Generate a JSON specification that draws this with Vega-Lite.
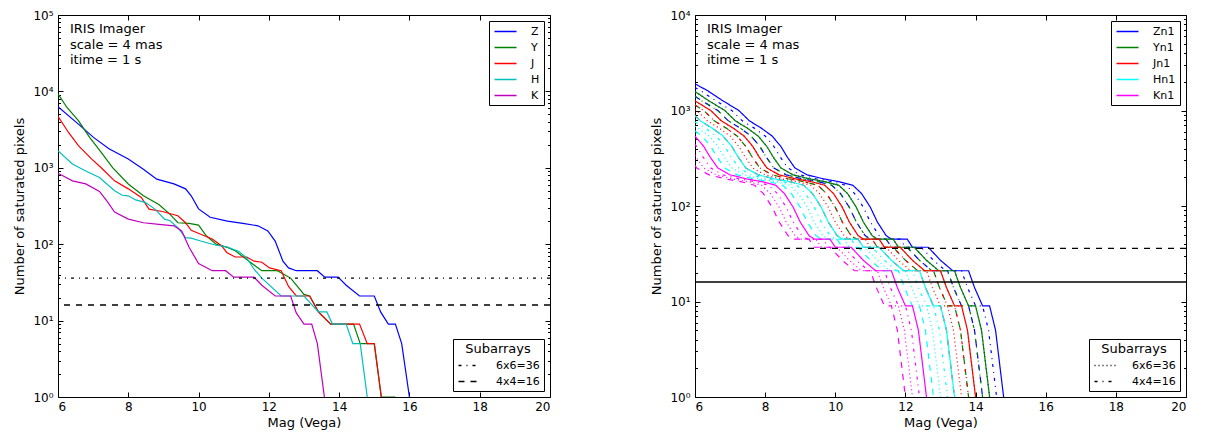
{
  "$schema": "https://vega.github.io/schema/vega-lite/v6.json",
  "background": "white",
  "padding": {"left": 13, "top": 8, "right": 0, "bottom": 0},
  "config": {
    "font": "DejaVu Sans",
    "view": {"stroke": "black", "strokeWidth": 1},
    "axis": {"grid": false, "domain": false, "tickColor": "black", "tickWidth": 1, "labelColor": "black", "labelFont": "DejaVu Sans", "labelFontSize": 12, "titleFont": "DejaVu Sans", "titleFontSize": 13, "titleFontWeight": "normal", "titleColor": "black"},
    "legend": {"labelFont": "DejaVu Sans", "labelFontSize": 11, "labelColor": "black", "titleFont": "DejaVu Sans", "titleFontSize": 13, "titleFontWeight": "normal", "titleColor": "black", "strokeColor": "black", "fillColor": "white", "padding": 4, "cornerRadius": 0, "offset": 6, "symbolType": "M-2,0H2", "symbolSize": 121, "symbolStrokeWidth": 1.5, "symbolOffset": 6, "labelOffset": 19, "rowPadding": 4, "titlePadding": 3}
  },
  "datasets": {
    "left": [
      {"band":"Z","mag":6.0,"n":6300},{"band":"Z","mag":6.58,"n":3730},{"band":"Z","mag":7.01,"n":2500},{"band":"Z","mag":7.45,"n":1780},{"band":"Z","mag":8.0,"n":1300},{"band":"Z","mag":8.43,"n":960},{"band":"Z","mag":8.81,"n":710},{"band":"Z","mag":9.3,"n":615},{"band":"Z","mag":9.63,"n":530},{"band":"Z","mag":9.79,"n":430},{"band":"Z","mag":10.0,"n":290},{"band":"Z","mag":10.33,"n":225},{"band":"Z","mag":10.82,"n":200},{"band":"Z","mag":11.26,"n":187},{"band":"Z","mag":11.69,"n":174},{"band":"Z","mag":11.97,"n":149},{"band":"Z","mag":12.18,"n":110},{"band":"Z","mag":12.4,"n":60},{"band":"Z","mag":12.56,"n":49},{"band":"Z","mag":12.78,"n":45},{"band":"Z","mag":13.38,"n":45},{"band":"Z","mag":13.59,"n":37},{"band":"Z","mag":13.97,"n":37},{"band":"Z","mag":14.2,"n":29},{"band":"Z","mag":14.58,"n":21},{"band":"Z","mag":15.0,"n":21},{"band":"Z","mag":15.18,"n":13},{"band":"Z","mag":15.4,"n":9},{"band":"Z","mag":15.6,"n":9},{"band":"Z","mag":15.78,"n":5},{"band":"Z","mag":16.0,"n":1},
      {"band":"Y","mag":6.0,"n":9300},{"band":"Y","mag":6.25,"n":6200},{"band":"Y","mag":6.58,"n":4150},{"band":"Y","mag":6.9,"n":2500},{"band":"Y","mag":7.23,"n":1590},{"band":"Y","mag":7.56,"n":1000},{"band":"Y","mag":8.0,"n":615},{"band":"Y","mag":8.43,"n":430},{"band":"Y","mag":8.87,"n":330},{"band":"Y","mag":9.19,"n":246},{"band":"Y","mag":9.41,"n":191},{"band":"Y","mag":9.73,"n":187},{"band":"Y","mag":10.0,"n":178},{"band":"Y","mag":10.22,"n":129},{"band":"Y","mag":10.5,"n":100},{"band":"Y","mag":10.82,"n":91},{"band":"Y","mag":11.04,"n":82},{"band":"Y","mag":11.37,"n":63},{"band":"Y","mag":11.8,"n":45},{"band":"Y","mag":12.24,"n":45},{"band":"Y","mag":12.62,"n":36},{"band":"Y","mag":13.0,"n":22},{"band":"Y","mag":13.16,"n":21},{"band":"Y","mag":13.41,"n":13},{"band":"Y","mag":13.76,"n":9},{"band":"Y","mag":14.41,"n":9},{"band":"Y","mag":14.6,"n":5},{"band":"Y","mag":15.0,"n":5},{"band":"Y","mag":15.2,"n":1},{"band":"Y","mag":15.6,"n":1},
      {"band":"J","mag":6.0,"n":4700},{"band":"J","mag":6.3,"n":2900},{"band":"J","mag":6.58,"n":1950},{"band":"J","mag":6.96,"n":1300},{"band":"J","mag":7.23,"n":1000},{"band":"J","mag":7.61,"n":675},{"band":"J","mag":8.0,"n":530},{"band":"J","mag":8.37,"n":410},{"band":"J","mag":8.59,"n":288},{"band":"J","mag":8.97,"n":268},{"band":"J","mag":9.41,"n":236},{"band":"J","mag":9.63,"n":191},{"band":"J","mag":9.79,"n":152},{"band":"J","mag":10.06,"n":135},{"band":"J","mag":10.39,"n":117},{"band":"J","mag":10.66,"n":95},{"band":"J","mag":10.8,"n":78},{"band":"J","mag":11.04,"n":68},{"band":"J","mag":11.37,"n":68},{"band":"J","mag":11.58,"n":60},{"band":"J","mag":11.8,"n":58},{"band":"J","mag":12.02,"n":49},{"band":"J","mag":12.35,"n":45},{"band":"J","mag":12.56,"n":28},{"band":"J","mag":12.78,"n":21},{"band":"J","mag":13.16,"n":21},{"band":"J","mag":13.41,"n":13},{"band":"J","mag":13.76,"n":9},{"band":"J","mag":14.58,"n":9},{"band":"J","mag":14.8,"n":5},{"band":"J","mag":15.0,"n":5},{"band":"J","mag":15.2,"n":1},
      {"band":"H","mag":6.0,"n":1670},{"band":"H","mag":6.41,"n":1120},{"band":"H","mag":6.79,"n":910},{"band":"H","mag":7.18,"n":745},{"band":"H","mag":7.61,"n":500},{"band":"H","mag":7.83,"n":437},{"band":"H","mag":8.0,"n":430},{"band":"H","mag":8.21,"n":380},{"band":"H","mag":8.48,"n":353},{"band":"H","mag":8.76,"n":288},{"band":"H","mag":9.03,"n":213},{"band":"H","mag":9.19,"n":203},{"band":"H","mag":9.41,"n":165},{"band":"H","mag":9.63,"n":122},{"band":"H","mag":9.79,"n":120},{"band":"H","mag":10.06,"n":110},{"band":"H","mag":10.5,"n":97},{"band":"H","mag":10.82,"n":92},{"band":"H","mag":11.15,"n":80},{"band":"H","mag":11.37,"n":66},{"band":"H","mag":11.58,"n":47},{"band":"H","mag":11.8,"n":36},{"band":"H","mag":12.35,"n":21},{"band":"H","mag":13.0,"n":21},{"band":"H","mag":13.41,"n":13},{"band":"H","mag":13.65,"n":13},{"band":"H","mag":13.81,"n":9},{"band":"H","mag":14.2,"n":9},{"band":"H","mag":14.39,"n":5},{"band":"H","mag":14.6,"n":5},{"band":"H","mag":14.8,"n":1},
      {"band":"K","mag":6.0,"n":850},{"band":"K","mag":6.41,"n":675},{"band":"K","mag":6.79,"n":615},{"band":"K","mag":7.18,"n":490},{"band":"K","mag":7.39,"n":370},{"band":"K","mag":7.61,"n":264},{"band":"K","mag":8.0,"n":213},{"band":"K","mag":8.43,"n":191},{"band":"K","mag":8.87,"n":182},{"band":"K","mag":9.3,"n":174},{"band":"K","mag":9.52,"n":149},{"band":"K","mag":9.73,"n":91},{"band":"K","mag":10.0,"n":56},{"band":"K","mag":10.39,"n":45},{"band":"K","mag":10.77,"n":45},{"band":"K","mag":11.0,"n":37},{"band":"K","mag":11.58,"n":37},{"band":"K","mag":11.8,"n":29},{"band":"K","mag":12.18,"n":21},{"band":"K","mag":12.62,"n":21},{"band":"K","mag":12.78,"n":12.6},{"band":"K","mag":13.0,"n":9},{"band":"K","mag":13.22,"n":9},{"band":"K","mag":13.38,"n":5},{"band":"K","mag":13.58,"n":1}
    ],
    "right": [
      {"band":"Zn1","sub":"full","mag":6,"n":1900},{"band":"Zn1","sub":"full","mag":6.35,"n":1620},{"band":"Zn1","sub":"full","mag":6.8,"n":1260},{"band":"Zn1","sub":"full","mag":7.25,"n":1000},{"band":"Zn1","sub":"full","mag":7.55,"n":780},{"band":"Zn1","sub":"full","mag":7.9,"n":650},{"band":"Zn1","sub":"full","mag":8.2,"n":540},{"band":"Zn1","sub":"full","mag":8.45,"n":420},{"band":"Zn1","sub":"full","mag":8.62,"n":330},{"band":"Zn1","sub":"full","mag":8.85,"n":250},{"band":"Zn1","sub":"full","mag":9.2,"n":212},{"band":"Zn1","sub":"full","mag":9.65,"n":193},{"band":"Zn1","sub":"full","mag":10.1,"n":180},{"band":"Zn1","sub":"full","mag":10.5,"n":165},{"band":"Zn1","sub":"full","mag":10.75,"n":135},{"band":"Zn1","sub":"full","mag":11,"n":97},{"band":"Zn1","sub":"full","mag":11.2,"n":68},{"band":"Zn1","sub":"full","mag":11.45,"n":49},{"band":"Zn1","sub":"full","mag":11.6,"n":45},{"band":"Zn1","sub":"full","mag":12.05,"n":45},{"band":"Zn1","sub":"full","mag":12.2,"n":37},{"band":"Zn1","sub":"full","mag":12.65,"n":37},{"band":"Zn1","sub":"full","mag":13,"n":27},{"band":"Zn1","sub":"full","mag":13.35,"n":21},{"band":"Zn1","sub":"full","mag":13.8,"n":21},{"band":"Zn1","sub":"full","mag":13.97,"n":14},{"band":"Zn1","sub":"full","mag":14.2,"n":9},{"band":"Zn1","sub":"full","mag":14.4,"n":9},{"band":"Zn1","sub":"full","mag":14.57,"n":5},{"band":"Zn1","sub":"full","mag":14.8,"n":1},
      {"band":"Zn1","sub":"4x4=16","mag":6,"n":1740},{"band":"Zn1","sub":"4x4=16","mag":6.15,"n":1620},{"band":"Zn1","sub":"4x4=16","mag":6.6,"n":1260},{"band":"Zn1","sub":"4x4=16","mag":7.05,"n":1000},{"band":"Zn1","sub":"4x4=16","mag":7.35,"n":780},{"band":"Zn1","sub":"4x4=16","mag":7.7,"n":650},{"band":"Zn1","sub":"4x4=16","mag":8,"n":540},{"band":"Zn1","sub":"4x4=16","mag":8.25,"n":420},{"band":"Zn1","sub":"4x4=16","mag":8.42,"n":330},{"band":"Zn1","sub":"4x4=16","mag":8.65,"n":250},{"band":"Zn1","sub":"4x4=16","mag":9,"n":212},{"band":"Zn1","sub":"4x4=16","mag":9.45,"n":193},{"band":"Zn1","sub":"4x4=16","mag":9.9,"n":180},{"band":"Zn1","sub":"4x4=16","mag":10.3,"n":165},{"band":"Zn1","sub":"4x4=16","mag":10.55,"n":135},{"band":"Zn1","sub":"4x4=16","mag":10.8,"n":97},{"band":"Zn1","sub":"4x4=16","mag":11,"n":68},{"band":"Zn1","sub":"4x4=16","mag":11.25,"n":49},{"band":"Zn1","sub":"4x4=16","mag":11.4,"n":45},{"band":"Zn1","sub":"4x4=16","mag":11.85,"n":45},{"band":"Zn1","sub":"4x4=16","mag":12,"n":37},{"band":"Zn1","sub":"4x4=16","mag":12.45,"n":37},{"band":"Zn1","sub":"4x4=16","mag":12.8,"n":27},{"band":"Zn1","sub":"4x4=16","mag":13.15,"n":21},{"band":"Zn1","sub":"4x4=16","mag":13.6,"n":21},{"band":"Zn1","sub":"4x4=16","mag":13.77,"n":14},{"band":"Zn1","sub":"4x4=16","mag":14,"n":9},{"band":"Zn1","sub":"4x4=16","mag":14.2,"n":9},{"band":"Zn1","sub":"4x4=16","mag":14.37,"n":5},{"band":"Zn1","sub":"4x4=16","mag":14.6,"n":1},
      {"band":"Zn1","sub":"6x6=36","mag":6,"n":1580},{"band":"Zn1","sub":"6x6=36","mag":6.4,"n":1260},{"band":"Zn1","sub":"6x6=36","mag":6.85,"n":1000},{"band":"Zn1","sub":"6x6=36","mag":7.15,"n":780},{"band":"Zn1","sub":"6x6=36","mag":7.5,"n":650},{"band":"Zn1","sub":"6x6=36","mag":7.8,"n":540},{"band":"Zn1","sub":"6x6=36","mag":8.05,"n":420},{"band":"Zn1","sub":"6x6=36","mag":8.22,"n":330},{"band":"Zn1","sub":"6x6=36","mag":8.45,"n":250},{"band":"Zn1","sub":"6x6=36","mag":8.8,"n":212},{"band":"Zn1","sub":"6x6=36","mag":9.25,"n":193},{"band":"Zn1","sub":"6x6=36","mag":9.7,"n":180},{"band":"Zn1","sub":"6x6=36","mag":10.1,"n":165},{"band":"Zn1","sub":"6x6=36","mag":10.35,"n":135},{"band":"Zn1","sub":"6x6=36","mag":10.6,"n":97},{"band":"Zn1","sub":"6x6=36","mag":10.8,"n":68},{"band":"Zn1","sub":"6x6=36","mag":11.05,"n":49},{"band":"Zn1","sub":"6x6=36","mag":11.2,"n":45},{"band":"Zn1","sub":"6x6=36","mag":11.65,"n":45},{"band":"Zn1","sub":"6x6=36","mag":11.8,"n":37},{"band":"Zn1","sub":"6x6=36","mag":12.25,"n":37},{"band":"Zn1","sub":"6x6=36","mag":12.6,"n":27},{"band":"Zn1","sub":"6x6=36","mag":12.95,"n":21},{"band":"Zn1","sub":"6x6=36","mag":13.4,"n":21},{"band":"Zn1","sub":"6x6=36","mag":13.57,"n":14},{"band":"Zn1","sub":"6x6=36","mag":13.8,"n":9},{"band":"Zn1","sub":"6x6=36","mag":14,"n":9},{"band":"Zn1","sub":"6x6=36","mag":14.17,"n":5},{"band":"Zn1","sub":"6x6=36","mag":14.4,"n":1},
      {"band":"Zn1","sub":"other","mag":6,"n":1410},{"band":"Zn1","sub":"other","mag":6.2,"n":1260},{"band":"Zn1","sub":"other","mag":6.65,"n":1000},{"band":"Zn1","sub":"other","mag":6.95,"n":780},{"band":"Zn1","sub":"other","mag":7.3,"n":650},{"band":"Zn1","sub":"other","mag":7.6,"n":540},{"band":"Zn1","sub":"other","mag":7.85,"n":420},{"band":"Zn1","sub":"other","mag":8.02,"n":330},{"band":"Zn1","sub":"other","mag":8.25,"n":250},{"band":"Zn1","sub":"other","mag":8.6,"n":212},{"band":"Zn1","sub":"other","mag":9.05,"n":193},{"band":"Zn1","sub":"other","mag":9.5,"n":180},{"band":"Zn1","sub":"other","mag":9.9,"n":165},{"band":"Zn1","sub":"other","mag":10.15,"n":135},{"band":"Zn1","sub":"other","mag":10.4,"n":97},{"band":"Zn1","sub":"other","mag":10.6,"n":68},{"band":"Zn1","sub":"other","mag":10.85,"n":49},{"band":"Zn1","sub":"other","mag":11,"n":45},{"band":"Zn1","sub":"other","mag":11.45,"n":45},{"band":"Zn1","sub":"other","mag":11.6,"n":37},{"band":"Zn1","sub":"other","mag":12.05,"n":37},{"band":"Zn1","sub":"other","mag":12.4,"n":27},{"band":"Zn1","sub":"other","mag":12.75,"n":21},{"band":"Zn1","sub":"other","mag":13.2,"n":21},{"band":"Zn1","sub":"other","mag":13.37,"n":14},{"band":"Zn1","sub":"other","mag":13.6,"n":9},{"band":"Zn1","sub":"other","mag":13.8,"n":9},{"band":"Zn1","sub":"other","mag":13.97,"n":5},{"band":"Zn1","sub":"other","mag":14.2,"n":1},

      {"band":"Yn1","sub":"full","mag":6,"n":1580},{"band":"Yn1","sub":"full","mag":6.4,"n":1260},{"band":"Yn1","sub":"full","mag":6.85,"n":1000},{"band":"Yn1","sub":"full","mag":7.15,"n":780},{"band":"Yn1","sub":"full","mag":7.5,"n":650},{"band":"Yn1","sub":"full","mag":7.8,"n":540},{"band":"Yn1","sub":"full","mag":8.05,"n":420},{"band":"Yn1","sub":"full","mag":8.22,"n":330},{"band":"Yn1","sub":"full","mag":8.45,"n":250},{"band":"Yn1","sub":"full","mag":8.8,"n":212},{"band":"Yn1","sub":"full","mag":9.25,"n":193},{"band":"Yn1","sub":"full","mag":9.7,"n":180},{"band":"Yn1","sub":"full","mag":10.1,"n":165},{"band":"Yn1","sub":"full","mag":10.35,"n":135},{"band":"Yn1","sub":"full","mag":10.6,"n":97},{"band":"Yn1","sub":"full","mag":10.8,"n":68},{"band":"Yn1","sub":"full","mag":11.05,"n":49},{"band":"Yn1","sub":"full","mag":11.2,"n":45},{"band":"Yn1","sub":"full","mag":11.65,"n":45},{"band":"Yn1","sub":"full","mag":11.8,"n":37},{"band":"Yn1","sub":"full","mag":12.25,"n":37},{"band":"Yn1","sub":"full","mag":12.6,"n":27},{"band":"Yn1","sub":"full","mag":12.95,"n":21},{"band":"Yn1","sub":"full","mag":13.4,"n":21},{"band":"Yn1","sub":"full","mag":13.57,"n":14},{"band":"Yn1","sub":"full","mag":13.8,"n":9},{"band":"Yn1","sub":"full","mag":14,"n":9},{"band":"Yn1","sub":"full","mag":14.17,"n":5},{"band":"Yn1","sub":"full","mag":14.4,"n":1},
      {"band":"Yn1","sub":"4x4=16","mag":6,"n":1410},{"band":"Yn1","sub":"4x4=16","mag":6.2,"n":1260},{"band":"Yn1","sub":"4x4=16","mag":6.65,"n":1000},{"band":"Yn1","sub":"4x4=16","mag":6.95,"n":780},{"band":"Yn1","sub":"4x4=16","mag":7.3,"n":650},{"band":"Yn1","sub":"4x4=16","mag":7.6,"n":540},{"band":"Yn1","sub":"4x4=16","mag":7.85,"n":420},{"band":"Yn1","sub":"4x4=16","mag":8.02,"n":330},{"band":"Yn1","sub":"4x4=16","mag":8.25,"n":250},{"band":"Yn1","sub":"4x4=16","mag":8.6,"n":212},{"band":"Yn1","sub":"4x4=16","mag":9.05,"n":193},{"band":"Yn1","sub":"4x4=16","mag":9.5,"n":180},{"band":"Yn1","sub":"4x4=16","mag":9.9,"n":165},{"band":"Yn1","sub":"4x4=16","mag":10.15,"n":135},{"band":"Yn1","sub":"4x4=16","mag":10.4,"n":97},{"band":"Yn1","sub":"4x4=16","mag":10.6,"n":68},{"band":"Yn1","sub":"4x4=16","mag":10.85,"n":49},{"band":"Yn1","sub":"4x4=16","mag":11,"n":45},{"band":"Yn1","sub":"4x4=16","mag":11.45,"n":45},{"band":"Yn1","sub":"4x4=16","mag":11.6,"n":37},{"band":"Yn1","sub":"4x4=16","mag":12.05,"n":37},{"band":"Yn1","sub":"4x4=16","mag":12.4,"n":27},{"band":"Yn1","sub":"4x4=16","mag":12.75,"n":21},{"band":"Yn1","sub":"4x4=16","mag":13.2,"n":21},{"band":"Yn1","sub":"4x4=16","mag":13.37,"n":14},{"band":"Yn1","sub":"4x4=16","mag":13.6,"n":9},{"band":"Yn1","sub":"4x4=16","mag":13.8,"n":9},{"band":"Yn1","sub":"4x4=16","mag":13.97,"n":5},{"band":"Yn1","sub":"4x4=16","mag":14.2,"n":1},
      {"band":"Yn1","sub":"6x6=36","mag":6,"n":1260},{"band":"Yn1","sub":"6x6=36","mag":6.45,"n":1000},{"band":"Yn1","sub":"6x6=36","mag":6.75,"n":780},{"band":"Yn1","sub":"6x6=36","mag":7.1,"n":650},{"band":"Yn1","sub":"6x6=36","mag":7.4,"n":540},{"band":"Yn1","sub":"6x6=36","mag":7.65,"n":420},{"band":"Yn1","sub":"6x6=36","mag":7.82,"n":330},{"band":"Yn1","sub":"6x6=36","mag":8.05,"n":250},{"band":"Yn1","sub":"6x6=36","mag":8.4,"n":212},{"band":"Yn1","sub":"6x6=36","mag":8.85,"n":193},{"band":"Yn1","sub":"6x6=36","mag":9.3,"n":180},{"band":"Yn1","sub":"6x6=36","mag":9.7,"n":165},{"band":"Yn1","sub":"6x6=36","mag":9.95,"n":135},{"band":"Yn1","sub":"6x6=36","mag":10.2,"n":97},{"band":"Yn1","sub":"6x6=36","mag":10.4,"n":68},{"band":"Yn1","sub":"6x6=36","mag":10.65,"n":49},{"band":"Yn1","sub":"6x6=36","mag":10.8,"n":45},{"band":"Yn1","sub":"6x6=36","mag":11.25,"n":45},{"band":"Yn1","sub":"6x6=36","mag":11.4,"n":37},{"band":"Yn1","sub":"6x6=36","mag":11.85,"n":37},{"band":"Yn1","sub":"6x6=36","mag":12.2,"n":27},{"band":"Yn1","sub":"6x6=36","mag":12.55,"n":21},{"band":"Yn1","sub":"6x6=36","mag":13,"n":21},{"band":"Yn1","sub":"6x6=36","mag":13.17,"n":14},{"band":"Yn1","sub":"6x6=36","mag":13.4,"n":9},{"band":"Yn1","sub":"6x6=36","mag":13.6,"n":9},{"band":"Yn1","sub":"6x6=36","mag":13.77,"n":5},{"band":"Yn1","sub":"6x6=36","mag":14,"n":1},
      {"band":"Yn1","sub":"other","mag":6,"n":1140},{"band":"Yn1","sub":"other","mag":6.25,"n":1000},{"band":"Yn1","sub":"other","mag":6.55,"n":780},{"band":"Yn1","sub":"other","mag":6.9,"n":650},{"band":"Yn1","sub":"other","mag":7.2,"n":540},{"band":"Yn1","sub":"other","mag":7.45,"n":420},{"band":"Yn1","sub":"other","mag":7.62,"n":330},{"band":"Yn1","sub":"other","mag":7.85,"n":250},{"band":"Yn1","sub":"other","mag":8.2,"n":212},{"band":"Yn1","sub":"other","mag":8.65,"n":193},{"band":"Yn1","sub":"other","mag":9.1,"n":180},{"band":"Yn1","sub":"other","mag":9.5,"n":165},{"band":"Yn1","sub":"other","mag":9.75,"n":135},{"band":"Yn1","sub":"other","mag":10,"n":97},{"band":"Yn1","sub":"other","mag":10.2,"n":68},{"band":"Yn1","sub":"other","mag":10.45,"n":49},{"band":"Yn1","sub":"other","mag":10.6,"n":45},{"band":"Yn1","sub":"other","mag":11.05,"n":45},{"band":"Yn1","sub":"other","mag":11.2,"n":37},{"band":"Yn1","sub":"other","mag":11.65,"n":37},{"band":"Yn1","sub":"other","mag":12,"n":27},{"band":"Yn1","sub":"other","mag":12.35,"n":21},{"band":"Yn1","sub":"other","mag":12.8,"n":21},{"band":"Yn1","sub":"other","mag":12.97,"n":14},{"band":"Yn1","sub":"other","mag":13.2,"n":9},{"band":"Yn1","sub":"other","mag":13.4,"n":9},{"band":"Yn1","sub":"other","mag":13.57,"n":5},{"band":"Yn1","sub":"other","mag":13.8,"n":1},

      {"band":"Jn1","sub":"full","mag":6,"n":1260},{"band":"Jn1","sub":"full","mag":6.45,"n":1000},{"band":"Jn1","sub":"full","mag":6.75,"n":780},{"band":"Jn1","sub":"full","mag":7.1,"n":650},{"band":"Jn1","sub":"full","mag":7.4,"n":540},{"band":"Jn1","sub":"full","mag":7.65,"n":420},{"band":"Jn1","sub":"full","mag":7.82,"n":330},{"band":"Jn1","sub":"full","mag":8.05,"n":250},{"band":"Jn1","sub":"full","mag":8.4,"n":212},{"band":"Jn1","sub":"full","mag":8.85,"n":193},{"band":"Jn1","sub":"full","mag":9.3,"n":180},{"band":"Jn1","sub":"full","mag":9.7,"n":165},{"band":"Jn1","sub":"full","mag":9.95,"n":135},{"band":"Jn1","sub":"full","mag":10.2,"n":97},{"band":"Jn1","sub":"full","mag":10.4,"n":68},{"band":"Jn1","sub":"full","mag":10.65,"n":49},{"band":"Jn1","sub":"full","mag":10.8,"n":45},{"band":"Jn1","sub":"full","mag":11.25,"n":45},{"band":"Jn1","sub":"full","mag":11.4,"n":37},{"band":"Jn1","sub":"full","mag":11.85,"n":37},{"band":"Jn1","sub":"full","mag":12.2,"n":27},{"band":"Jn1","sub":"full","mag":12.55,"n":21},{"band":"Jn1","sub":"full","mag":13,"n":21},{"band":"Jn1","sub":"full","mag":13.17,"n":14},{"band":"Jn1","sub":"full","mag":13.4,"n":9},{"band":"Jn1","sub":"full","mag":13.6,"n":9},{"band":"Jn1","sub":"full","mag":13.77,"n":5},{"band":"Jn1","sub":"full","mag":14,"n":1},
      {"band":"Jn1","sub":"4x4=16","mag":6,"n":1140},{"band":"Jn1","sub":"4x4=16","mag":6.25,"n":1000},{"band":"Jn1","sub":"4x4=16","mag":6.55,"n":780},{"band":"Jn1","sub":"4x4=16","mag":6.9,"n":650},{"band":"Jn1","sub":"4x4=16","mag":7.2,"n":540},{"band":"Jn1","sub":"4x4=16","mag":7.45,"n":420},{"band":"Jn1","sub":"4x4=16","mag":7.62,"n":330},{"band":"Jn1","sub":"4x4=16","mag":7.85,"n":250},{"band":"Jn1","sub":"4x4=16","mag":8.2,"n":212},{"band":"Jn1","sub":"4x4=16","mag":8.65,"n":193},{"band":"Jn1","sub":"4x4=16","mag":9.1,"n":180},{"band":"Jn1","sub":"4x4=16","mag":9.5,"n":165},{"band":"Jn1","sub":"4x4=16","mag":9.75,"n":135},{"band":"Jn1","sub":"4x4=16","mag":10,"n":97},{"band":"Jn1","sub":"4x4=16","mag":10.2,"n":68},{"band":"Jn1","sub":"4x4=16","mag":10.45,"n":49},{"band":"Jn1","sub":"4x4=16","mag":10.6,"n":45},{"band":"Jn1","sub":"4x4=16","mag":11.05,"n":45},{"band":"Jn1","sub":"4x4=16","mag":11.2,"n":37},{"band":"Jn1","sub":"4x4=16","mag":11.65,"n":37},{"band":"Jn1","sub":"4x4=16","mag":12,"n":27},{"band":"Jn1","sub":"4x4=16","mag":12.35,"n":21},{"band":"Jn1","sub":"4x4=16","mag":12.8,"n":21},{"band":"Jn1","sub":"4x4=16","mag":12.97,"n":14},{"band":"Jn1","sub":"4x4=16","mag":13.2,"n":9},{"band":"Jn1","sub":"4x4=16","mag":13.4,"n":9},{"band":"Jn1","sub":"4x4=16","mag":13.57,"n":5},{"band":"Jn1","sub":"4x4=16","mag":13.8,"n":1},
      {"band":"Jn1","sub":"6x6=36","mag":6,"n":1025},{"band":"Jn1","sub":"6x6=36","mag":6.05,"n":1000},{"band":"Jn1","sub":"6x6=36","mag":6.35,"n":780},{"band":"Jn1","sub":"6x6=36","mag":6.7,"n":650},{"band":"Jn1","sub":"6x6=36","mag":7,"n":540},{"band":"Jn1","sub":"6x6=36","mag":7.25,"n":420},{"band":"Jn1","sub":"6x6=36","mag":7.42,"n":330},{"band":"Jn1","sub":"6x6=36","mag":7.65,"n":250},{"band":"Jn1","sub":"6x6=36","mag":8,"n":212},{"band":"Jn1","sub":"6x6=36","mag":8.45,"n":193},{"band":"Jn1","sub":"6x6=36","mag":8.9,"n":180},{"band":"Jn1","sub":"6x6=36","mag":9.3,"n":165},{"band":"Jn1","sub":"6x6=36","mag":9.55,"n":135},{"band":"Jn1","sub":"6x6=36","mag":9.8,"n":97},{"band":"Jn1","sub":"6x6=36","mag":10,"n":68},{"band":"Jn1","sub":"6x6=36","mag":10.25,"n":49},{"band":"Jn1","sub":"6x6=36","mag":10.4,"n":45},{"band":"Jn1","sub":"6x6=36","mag":10.85,"n":45},{"band":"Jn1","sub":"6x6=36","mag":11,"n":37},{"band":"Jn1","sub":"6x6=36","mag":11.45,"n":37},{"band":"Jn1","sub":"6x6=36","mag":11.8,"n":27},{"band":"Jn1","sub":"6x6=36","mag":12.15,"n":21},{"band":"Jn1","sub":"6x6=36","mag":12.6,"n":21},{"band":"Jn1","sub":"6x6=36","mag":12.77,"n":14},{"band":"Jn1","sub":"6x6=36","mag":13,"n":9},{"band":"Jn1","sub":"6x6=36","mag":13.2,"n":9},{"band":"Jn1","sub":"6x6=36","mag":13.37,"n":5},{"band":"Jn1","sub":"6x6=36","mag":13.6,"n":1},
      {"band":"Jn1","sub":"other","mag":6,"n":880},{"band":"Jn1","sub":"other","mag":6.15,"n":780},{"band":"Jn1","sub":"other","mag":6.5,"n":650},{"band":"Jn1","sub":"other","mag":6.8,"n":540},{"band":"Jn1","sub":"other","mag":7.05,"n":420},{"band":"Jn1","sub":"other","mag":7.22,"n":330},{"band":"Jn1","sub":"other","mag":7.45,"n":250},{"band":"Jn1","sub":"other","mag":7.8,"n":212},{"band":"Jn1","sub":"other","mag":8.25,"n":193},{"band":"Jn1","sub":"other","mag":8.7,"n":180},{"band":"Jn1","sub":"other","mag":9.1,"n":165},{"band":"Jn1","sub":"other","mag":9.35,"n":135},{"band":"Jn1","sub":"other","mag":9.6,"n":97},{"band":"Jn1","sub":"other","mag":9.8,"n":68},{"band":"Jn1","sub":"other","mag":10.05,"n":49},{"band":"Jn1","sub":"other","mag":10.2,"n":45},{"band":"Jn1","sub":"other","mag":10.65,"n":45},{"band":"Jn1","sub":"other","mag":10.8,"n":37},{"band":"Jn1","sub":"other","mag":11.25,"n":37},{"band":"Jn1","sub":"other","mag":11.6,"n":27},{"band":"Jn1","sub":"other","mag":11.95,"n":21},{"band":"Jn1","sub":"other","mag":12.4,"n":21},{"band":"Jn1","sub":"other","mag":12.57,"n":14},{"band":"Jn1","sub":"other","mag":12.8,"n":9},{"band":"Jn1","sub":"other","mag":13,"n":9},{"band":"Jn1","sub":"other","mag":13.17,"n":5},{"band":"Jn1","sub":"other","mag":13.4,"n":1},

      {"band":"Hn1","sub":"full","mag":6,"n":880},{"band":"Hn1","sub":"full","mag":6.15,"n":780},{"band":"Hn1","sub":"full","mag":6.5,"n":650},{"band":"Hn1","sub":"full","mag":6.8,"n":540},{"band":"Hn1","sub":"full","mag":7.05,"n":420},{"band":"Hn1","sub":"full","mag":7.22,"n":330},{"band":"Hn1","sub":"full","mag":7.45,"n":250},{"band":"Hn1","sub":"full","mag":7.8,"n":212},{"band":"Hn1","sub":"full","mag":8.25,"n":193},{"band":"Hn1","sub":"full","mag":8.7,"n":180},{"band":"Hn1","sub":"full","mag":9.1,"n":165},{"band":"Hn1","sub":"full","mag":9.35,"n":135},{"band":"Hn1","sub":"full","mag":9.6,"n":97},{"band":"Hn1","sub":"full","mag":9.8,"n":68},{"band":"Hn1","sub":"full","mag":10.05,"n":49},{"band":"Hn1","sub":"full","mag":10.2,"n":45},{"band":"Hn1","sub":"full","mag":10.65,"n":45},{"band":"Hn1","sub":"full","mag":10.8,"n":37},{"band":"Hn1","sub":"full","mag":11.25,"n":37},{"band":"Hn1","sub":"full","mag":11.6,"n":27},{"band":"Hn1","sub":"full","mag":11.95,"n":21},{"band":"Hn1","sub":"full","mag":12.4,"n":21},{"band":"Hn1","sub":"full","mag":12.57,"n":14},{"band":"Hn1","sub":"full","mag":12.8,"n":9},{"band":"Hn1","sub":"full","mag":13,"n":9},{"band":"Hn1","sub":"full","mag":13.17,"n":5},{"band":"Hn1","sub":"full","mag":13.4,"n":1},
      {"band":"Hn1","sub":"4x4=16","mag":6,"n":760},{"band":"Hn1","sub":"4x4=16","mag":6.3,"n":650},{"band":"Hn1","sub":"4x4=16","mag":6.6,"n":540},{"band":"Hn1","sub":"4x4=16","mag":6.85,"n":420},{"band":"Hn1","sub":"4x4=16","mag":7.02,"n":330},{"band":"Hn1","sub":"4x4=16","mag":7.25,"n":250},{"band":"Hn1","sub":"4x4=16","mag":7.6,"n":212},{"band":"Hn1","sub":"4x4=16","mag":8.05,"n":193},{"band":"Hn1","sub":"4x4=16","mag":8.5,"n":180},{"band":"Hn1","sub":"4x4=16","mag":8.9,"n":165},{"band":"Hn1","sub":"4x4=16","mag":9.15,"n":135},{"band":"Hn1","sub":"4x4=16","mag":9.4,"n":97},{"band":"Hn1","sub":"4x4=16","mag":9.6,"n":68},{"band":"Hn1","sub":"4x4=16","mag":9.85,"n":49},{"band":"Hn1","sub":"4x4=16","mag":10,"n":45},{"band":"Hn1","sub":"4x4=16","mag":10.45,"n":45},{"band":"Hn1","sub":"4x4=16","mag":10.6,"n":37},{"band":"Hn1","sub":"4x4=16","mag":11.05,"n":37},{"band":"Hn1","sub":"4x4=16","mag":11.4,"n":27},{"band":"Hn1","sub":"4x4=16","mag":11.75,"n":21},{"band":"Hn1","sub":"4x4=16","mag":12.2,"n":21},{"band":"Hn1","sub":"4x4=16","mag":12.37,"n":14},{"band":"Hn1","sub":"4x4=16","mag":12.6,"n":9},{"band":"Hn1","sub":"4x4=16","mag":12.8,"n":9},{"band":"Hn1","sub":"4x4=16","mag":12.97,"n":5},{"band":"Hn1","sub":"4x4=16","mag":13.2,"n":1},
      {"band":"Hn1","sub":"6x6=36","mag":6,"n":685},{"band":"Hn1","sub":"6x6=36","mag":6.1,"n":650},{"band":"Hn1","sub":"6x6=36","mag":6.4,"n":540},{"band":"Hn1","sub":"6x6=36","mag":6.65,"n":420},{"band":"Hn1","sub":"6x6=36","mag":6.82,"n":330},{"band":"Hn1","sub":"6x6=36","mag":7.05,"n":250},{"band":"Hn1","sub":"6x6=36","mag":7.4,"n":212},{"band":"Hn1","sub":"6x6=36","mag":7.85,"n":193},{"band":"Hn1","sub":"6x6=36","mag":8.3,"n":180},{"band":"Hn1","sub":"6x6=36","mag":8.7,"n":165},{"band":"Hn1","sub":"6x6=36","mag":8.95,"n":135},{"band":"Hn1","sub":"6x6=36","mag":9.2,"n":97},{"band":"Hn1","sub":"6x6=36","mag":9.4,"n":68},{"band":"Hn1","sub":"6x6=36","mag":9.65,"n":49},{"band":"Hn1","sub":"6x6=36","mag":9.8,"n":45},{"band":"Hn1","sub":"6x6=36","mag":10.25,"n":45},{"band":"Hn1","sub":"6x6=36","mag":10.4,"n":37},{"band":"Hn1","sub":"6x6=36","mag":10.85,"n":37},{"band":"Hn1","sub":"6x6=36","mag":11.2,"n":27},{"band":"Hn1","sub":"6x6=36","mag":11.55,"n":21},{"band":"Hn1","sub":"6x6=36","mag":12,"n":21},{"band":"Hn1","sub":"6x6=36","mag":12.17,"n":14},{"band":"Hn1","sub":"6x6=36","mag":12.4,"n":9},{"band":"Hn1","sub":"6x6=36","mag":12.6,"n":9},{"band":"Hn1","sub":"6x6=36","mag":12.77,"n":5},{"band":"Hn1","sub":"6x6=36","mag":13,"n":1},
      {"band":"Hn1","sub":"other","mag":6,"n":610},{"band":"Hn1","sub":"other","mag":6.2,"n":540},{"band":"Hn1","sub":"other","mag":6.45,"n":420},{"band":"Hn1","sub":"other","mag":6.62,"n":330},{"band":"Hn1","sub":"other","mag":6.85,"n":250},{"band":"Hn1","sub":"other","mag":7.2,"n":212},{"band":"Hn1","sub":"other","mag":7.65,"n":193},{"band":"Hn1","sub":"other","mag":8.1,"n":180},{"band":"Hn1","sub":"other","mag":8.5,"n":165},{"band":"Hn1","sub":"other","mag":8.75,"n":135},{"band":"Hn1","sub":"other","mag":9,"n":97},{"band":"Hn1","sub":"other","mag":9.2,"n":68},{"band":"Hn1","sub":"other","mag":9.45,"n":49},{"band":"Hn1","sub":"other","mag":9.6,"n":45},{"band":"Hn1","sub":"other","mag":10.05,"n":45},{"band":"Hn1","sub":"other","mag":10.2,"n":37},{"band":"Hn1","sub":"other","mag":10.65,"n":37},{"band":"Hn1","sub":"other","mag":11,"n":27},{"band":"Hn1","sub":"other","mag":11.35,"n":21},{"band":"Hn1","sub":"other","mag":11.8,"n":21},{"band":"Hn1","sub":"other","mag":11.97,"n":14},{"band":"Hn1","sub":"other","mag":12.2,"n":9},{"band":"Hn1","sub":"other","mag":12.4,"n":9},{"band":"Hn1","sub":"other","mag":12.57,"n":5},{"band":"Hn1","sub":"other","mag":12.8,"n":1},

      {"band":"Kn1","sub":"full","mag":6,"n":540},{"band":"Kn1","sub":"full","mag":6.25,"n":420},{"band":"Kn1","sub":"full","mag":6.42,"n":330},{"band":"Kn1","sub":"full","mag":6.65,"n":250},{"band":"Kn1","sub":"full","mag":7,"n":212},{"band":"Kn1","sub":"full","mag":7.45,"n":193},{"band":"Kn1","sub":"full","mag":7.9,"n":180},{"band":"Kn1","sub":"full","mag":8.3,"n":165},{"band":"Kn1","sub":"full","mag":8.55,"n":135},{"band":"Kn1","sub":"full","mag":8.8,"n":97},{"band":"Kn1","sub":"full","mag":9,"n":68},{"band":"Kn1","sub":"full","mag":9.25,"n":49},{"band":"Kn1","sub":"full","mag":9.4,"n":45},{"band":"Kn1","sub":"full","mag":9.85,"n":45},{"band":"Kn1","sub":"full","mag":10,"n":37},{"band":"Kn1","sub":"full","mag":10.45,"n":37},{"band":"Kn1","sub":"full","mag":10.8,"n":27},{"band":"Kn1","sub":"full","mag":11.15,"n":21},{"band":"Kn1","sub":"full","mag":11.6,"n":21},{"band":"Kn1","sub":"full","mag":11.77,"n":14},{"band":"Kn1","sub":"full","mag":12,"n":9},{"band":"Kn1","sub":"full","mag":12.2,"n":9},{"band":"Kn1","sub":"full","mag":12.37,"n":5},{"band":"Kn1","sub":"full","mag":12.6,"n":1},
      {"band":"Kn1","sub":"4x4=16","mag":6,"n":440},{"band":"Kn1","sub":"4x4=16","mag":6.05,"n":420},{"band":"Kn1","sub":"4x4=16","mag":6.22,"n":330},{"band":"Kn1","sub":"4x4=16","mag":6.45,"n":250},{"band":"Kn1","sub":"4x4=16","mag":6.8,"n":212},{"band":"Kn1","sub":"4x4=16","mag":7.25,"n":193},{"band":"Kn1","sub":"4x4=16","mag":7.7,"n":180},{"band":"Kn1","sub":"4x4=16","mag":8.1,"n":165},{"band":"Kn1","sub":"4x4=16","mag":8.35,"n":135},{"band":"Kn1","sub":"4x4=16","mag":8.6,"n":97},{"band":"Kn1","sub":"4x4=16","mag":8.8,"n":68},{"band":"Kn1","sub":"4x4=16","mag":9.05,"n":49},{"band":"Kn1","sub":"4x4=16","mag":9.2,"n":45},{"band":"Kn1","sub":"4x4=16","mag":9.65,"n":45},{"band":"Kn1","sub":"4x4=16","mag":9.8,"n":37},{"band":"Kn1","sub":"4x4=16","mag":10.25,"n":37},{"band":"Kn1","sub":"4x4=16","mag":10.6,"n":27},{"band":"Kn1","sub":"4x4=16","mag":10.95,"n":21},{"band":"Kn1","sub":"4x4=16","mag":11.4,"n":21},{"band":"Kn1","sub":"4x4=16","mag":11.57,"n":14},{"band":"Kn1","sub":"4x4=16","mag":11.8,"n":9},{"band":"Kn1","sub":"4x4=16","mag":12,"n":9},{"band":"Kn1","sub":"4x4=16","mag":12.17,"n":5},{"band":"Kn1","sub":"4x4=16","mag":12.4,"n":1},
      {"band":"Kn1","sub":"6x6=36","mag":6,"n":340},{"band":"Kn1","sub":"6x6=36","mag":6.02,"n":330},{"band":"Kn1","sub":"6x6=36","mag":6.25,"n":250},{"band":"Kn1","sub":"6x6=36","mag":6.6,"n":212},{"band":"Kn1","sub":"6x6=36","mag":7.05,"n":193},{"band":"Kn1","sub":"6x6=36","mag":7.5,"n":180},{"band":"Kn1","sub":"6x6=36","mag":7.9,"n":165},{"band":"Kn1","sub":"6x6=36","mag":8.15,"n":135},{"band":"Kn1","sub":"6x6=36","mag":8.4,"n":97},{"band":"Kn1","sub":"6x6=36","mag":8.6,"n":68},{"band":"Kn1","sub":"6x6=36","mag":8.85,"n":49},{"band":"Kn1","sub":"6x6=36","mag":9,"n":45},{"band":"Kn1","sub":"6x6=36","mag":9.45,"n":45},{"band":"Kn1","sub":"6x6=36","mag":9.6,"n":37},{"band":"Kn1","sub":"6x6=36","mag":10.05,"n":37},{"band":"Kn1","sub":"6x6=36","mag":10.4,"n":27},{"band":"Kn1","sub":"6x6=36","mag":10.75,"n":21},{"band":"Kn1","sub":"6x6=36","mag":11.2,"n":21},{"band":"Kn1","sub":"6x6=36","mag":11.37,"n":14},{"band":"Kn1","sub":"6x6=36","mag":11.6,"n":9},{"band":"Kn1","sub":"6x6=36","mag":11.8,"n":9},{"band":"Kn1","sub":"6x6=36","mag":11.97,"n":5},{"band":"Kn1","sub":"6x6=36","mag":12.2,"n":1},
      {"band":"Kn1","sub":"other","mag":6,"n":265},{"band":"Kn1","sub":"other","mag":6.05,"n":250},{"band":"Kn1","sub":"other","mag":6.4,"n":212},{"band":"Kn1","sub":"other","mag":6.85,"n":193},{"band":"Kn1","sub":"other","mag":7.3,"n":180},{"band":"Kn1","sub":"other","mag":7.7,"n":165},{"band":"Kn1","sub":"other","mag":7.95,"n":135},{"band":"Kn1","sub":"other","mag":8.2,"n":97},{"band":"Kn1","sub":"other","mag":8.4,"n":68},{"band":"Kn1","sub":"other","mag":8.65,"n":49},{"band":"Kn1","sub":"other","mag":8.8,"n":45},{"band":"Kn1","sub":"other","mag":9.25,"n":45},{"band":"Kn1","sub":"other","mag":9.4,"n":37},{"band":"Kn1","sub":"other","mag":9.85,"n":37},{"band":"Kn1","sub":"other","mag":10.2,"n":27},{"band":"Kn1","sub":"other","mag":10.55,"n":21},{"band":"Kn1","sub":"other","mag":11,"n":21},{"band":"Kn1","sub":"other","mag":11.17,"n":14},{"band":"Kn1","sub":"other","mag":11.4,"n":9},{"band":"Kn1","sub":"other","mag":11.6,"n":9},{"band":"Kn1","sub":"other","mag":11.77,"n":5},{"band":"Kn1","sub":"other","mag":12,"n":1}
    ]
  },
  "spacing": 98,
  "resolve": {"scale": {"color": "independent", "strokeDash": "independent"}},
  "hconcat": [
    {
      "width": 492, "height": 382,
      "resolve": {"axis": {"x": "independent", "y": "independent"}},
      "layer": [
        {
          "data": {"name": "left"},
          "mark": {"type": "line", "strokeWidth": 1.2, "clip": true},
          "encoding": {
            "x": {"field": "mag", "type": "quantitative", "scale": {"domain": [6, 20], "nice": false, "zero": false},
                  "axis": {"orient": "bottom", "title": "Mag (Vega)", "values": [6, 8, 10, 12, 14, 16, 18, 20], "format": "d", "tickSize": -5, "labelPadding": 9, "titlePadding": 4}},
            "y": {"field": "n", "type": "quantitative", "scale": {"type": "log", "domain": [1, 100000], "nice": false},
                  "axis": {"orient": "left", "title": "Number of saturated pixels", "titlePadding": 6, "labelPadding": 10,
                           "values": [1,2,3,4,5,6,7,8,9,10,20,30,40,50,60,70,80,90,100,200,300,400,500,600,700,800,900,1000,2000,3000,4000,5000,6000,7000,8000,9000,10000,20000,30000,40000,50000,60000,70000,80000,90000,100000],
                           "labelExpr": "indexof([1,10,100,1000,10000,100000], datum.value) >= 0 ? '10' + ['⁰','¹','²','³','⁴','⁵'][round(log(datum.value)/LN10)] : ''",
                           "tickSize": {"condition": {"test": "indexof([1,10,100,1000,10000,100000], datum.value) >= 0", "value": -5}, "value": -2.5}}},
            "color": {"field": "band", "type": "nominal",
                      "scale": {"domain": ["Z", "Y", "J", "H", "K"], "range": ["#0000ff", "#008000", "#ff0000", "#00bfbf", "#bf00bf"]},
                      "legend": {"title": null, "orient": "top-right"}}
          }
        },
        {
          "data": {"values": [{"level": 36, "label": "6x6=36"}, {"level": 16, "label": "4x4=16"}]},
          "mark": {"type": "rule", "color": "black", "strokeWidth": 1.3},
          "encoding": {
            "y": {"field": "level", "type": "quantitative", "scale": {"type": "log", "domain": [1, 100000], "nice": false}, "axis": null},
            "strokeDash": {"field": "label", "type": "nominal",
                           "scale": {"domain": ["6x6=36", "4x4=16"], "range": [[3, 5, 1, 5], [6, 6]]},
                           "legend": {"title": "Subarrays", "orient": "bottom-right", "titleAnchor": "middle", "symbolStrokeColor": "black", "labelOffset": 20}}
          }
        },
        {
          "data": {"values": [{"mag": 6.34, "n": 65600, "text": "IRIS Imager"}, {"mag": 6.34, "n": 40500, "text": "scale = 4 mas"}, {"mag": 6.34, "n": 25800, "text": "itime = 1 s"}]},
          "mark": {"type": "text", "align": "left", "baseline": "middle", "fontSize": 13, "color": "black", "font": "DejaVu Sans"},
          "encoding": {
            "x": {"field": "mag", "type": "quantitative", "scale": {"domain": [6, 20], "nice": false, "zero": false},
                  "axis": {"orient": "top", "title": null, "labels": false, "values": [6, 8, 10, 12, 14, 16, 18, 20], "tickSize": -5}},
            "y": {"field": "n", "type": "quantitative", "scale": {"type": "log", "domain": [1, 100000], "nice": false},
                  "axis": {"orient": "right", "title": null, "labels": false,
                           "values": [1,2,3,4,5,6,7,8,9,10,20,30,40,50,60,70,80,90,100,200,300,400,500,600,700,800,900,1000,2000,3000,4000,5000,6000,7000,8000,9000,10000,20000,30000,40000,50000,60000,70000,80000,90000,100000],
                           "tickSize": {"condition": {"test": "indexof([1,10,100,1000,10000,100000], datum.value) >= 0", "value": -5}, "value": -2.5}}},
            "text": {"field": "text", "type": "nominal"}
          }
        }
      ]
    },
    {
      "width": 491, "height": 382,
      "resolve": {"axis": {"x": "independent", "y": "independent"}},
      "layer": [
        {
          "data": {"name": "right"},
          "mark": {"type": "line", "strokeWidth": 1.2, "clip": true},
          "encoding": {
            "x": {"field": "mag", "type": "quantitative", "scale": {"domain": [6, 20], "nice": false, "zero": false},
                  "axis": {"orient": "bottom", "title": "Mag (Vega)", "values": [6, 8, 10, 12, 14, 16, 18, 20], "format": "d", "tickSize": -5, "labelPadding": 9, "titlePadding": 4}},
            "y": {"field": "n", "type": "quantitative", "scale": {"type": "log", "domain": [1, 10000], "nice": false},
                  "axis": {"orient": "left", "title": "Number of saturated pixels", "titlePadding": 6, "labelPadding": 10,
                           "values": [1,2,3,4,5,6,7,8,9,10,20,30,40,50,60,70,80,90,100,200,300,400,500,600,700,800,900,1000,2000,3000,4000,5000,6000,7000,8000,9000,10000],
                           "labelExpr": "indexof([1,10,100,1000,10000], datum.value) >= 0 ? '10' + ['⁰','¹','²','³','⁴'][round(log(datum.value)/LN10)] : ''",
                           "tickSize": {"condition": {"test": "indexof([1,10,100,1000,10000], datum.value) >= 0", "value": -5}, "value": -2.5}}},
            "color": {"field": "band", "type": "nominal",
                      "scale": {"domain": ["Zn1", "Yn1", "Jn1", "Hn1", "Kn1"], "range": ["#0000ff", "#008000", "#ff0000", "#00ffff", "#ff00ff"]},
                      "legend": {"title": null, "orient": "top-right"}},
            "strokeDash": {"field": "sub", "type": "nominal",
                           "scale": {"domain": ["full", "6x6=36", "4x4=16", "other"], "range": [[1, 0], [1, 3], [3, 5, 1, 5], [6, 6]]},
                           "legend": {"title": "Subarrays", "orient": "bottom-right", "titleAnchor": "middle", "values": ["6x6=36", "4x4=16"], "symbolStrokeColor": "black", "labelOffset": 20}}
          }
        },
        {
          "data": {"values": [{"level": 36}]},
          "mark": {"type": "rule", "color": "black", "strokeWidth": 1.3, "strokeDash": [6, 6]},
          "encoding": {"y": {"field": "level", "type": "quantitative", "scale": {"type": "log", "domain": [1, 10000], "nice": false}, "axis": null}}
        },
        {
          "data": {"values": [{"level": 16}]},
          "mark": {"type": "rule", "color": "black", "strokeWidth": 1.3},
          "encoding": {"y": {"field": "level", "type": "quantitative", "scale": {"type": "log", "domain": [1, 10000], "nice": false}, "axis": null}}
        },
        {
          "data": {"values": [{"mag": 6.34, "n": 7130, "text": "IRIS Imager"}, {"mag": 6.34, "n": 4850, "text": "scale = 4 mas"}, {"mag": 6.34, "n": 3380, "text": "itime = 1 s"}]},
          "mark": {"type": "text", "align": "left", "baseline": "middle", "fontSize": 13, "color": "black", "font": "DejaVu Sans"},
          "encoding": {
            "x": {"field": "mag", "type": "quantitative", "scale": {"domain": [6, 20], "nice": false, "zero": false},
                  "axis": {"orient": "top", "title": null, "labels": false, "values": [6, 8, 10, 12, 14, 16, 18, 20], "tickSize": -5}},
            "y": {"field": "n", "type": "quantitative", "scale": {"type": "log", "domain": [1, 10000], "nice": false},
                  "axis": {"orient": "right", "title": null, "labels": false,
                           "values": [1,2,3,4,5,6,7,8,9,10,20,30,40,50,60,70,80,90,100,200,300,400,500,600,700,800,900,1000,2000,3000,4000,5000,6000,7000,8000,9000,10000],
                           "tickSize": {"condition": {"test": "indexof([1,10,100,1000,10000], datum.value) >= 0", "value": -5}, "value": -2.5}}},
            "text": {"field": "text", "type": "nominal"}
          }
        }
      ]
    }
  ]
}
